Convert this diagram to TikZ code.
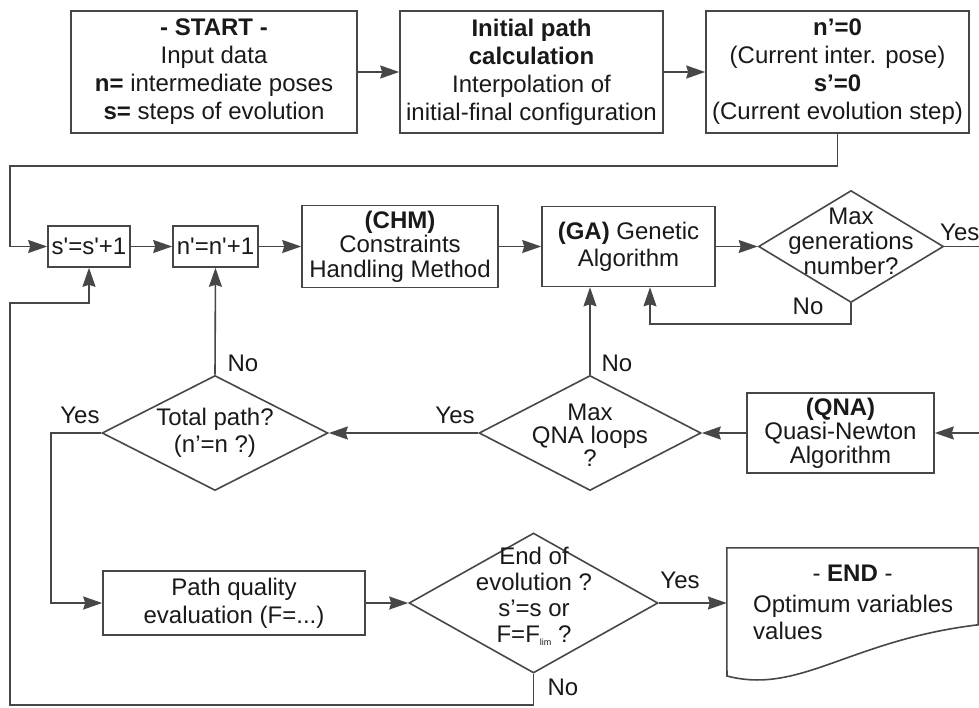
\documentclass[tikz,border=0pt]{standalone}
\usepackage{fontspec}
\setmainfont{Liberation Sans}
\usetikzlibrary{arrows.meta,shapes.geometric}

\begin{document}
\begin{tikzpicture}[x=1pt,y=-1pt,
  font=\fontsize{24}{28}\selectfont,
  every node/.style={text=black!90},
  box/.style={draw=black!72,line width=1.6pt,rectangle,align=center,inner sep=2pt},
  dia/.style={draw=black!72,line width=1.6pt,diamond,inner sep=0pt},
  txt/.style={align=center,inner sep=0pt,font=\fontsize{24}{25}\selectfont},
  lab/.style={inner sep=0pt},
  arr/.style={draw=black!72,line width=1.6pt,-{Stealth[length=19pt,width=13pt,inset=2pt]}},
  lin/.style={draw=black!72,line width=1.6pt}]
\useasboundingbox (0,0) rectangle (979,707);

\node[box,minimum width=286pt,minimum height=122pt] (start) at (214,72)
  {\textbf{- START -}\\Input data\\\textbf{n=} intermediate poses\\\textbf{s=} steps of evolution};
\node[box,minimum width=263pt,minimum height=122pt] (init) at (531.5,72)
  {\textbf{Initial path}\\\textbf{calculation}\\Interpolation of\\initial-final configuration};
\node[box,minimum width=263pt,minimum height=122pt] (cur) at (837.5,72)
  {\textbf{n’=0}\\(Current inter. pose)\\\textbf{s’=0}\\(Current evolution step)};

\node[box,minimum width=82pt,minimum height=41pt,inner sep=1pt] (sinc) at (89,246.5)
  {s\textquotesingle=s\textquotesingle+1};
\node[box,minimum width=85pt,minimum height=41pt,inner sep=1pt] (ninc) at (215.5,246.5)
  {n\textquotesingle=n\textquotesingle+1};
\node[box,minimum width=196pt,minimum height=82pt,font=\fontsize{24}{24.5}\selectfont] (chm) at (400,246.5)
  {\textbf{(CHM)}\\Constraints\\Handling Method};
\node[box,minimum width=173pt,minimum height=80pt,font=\fontsize{24}{27}\selectfont] (ga) at (628.5,246.5)
  {\textbf{(GA)} Genetic\\Algorithm};
\node[dia,minimum width=185pt,minimum height=112pt] (gen) at (851,246.5) {};
\node[txt] (gentxt) at (851,241) {Max\\generations\\number?};

\node[box,minimum width=187pt,minimum height=80pt,font=\fontsize{24}{24}\selectfont] (qna) at (840.5,433)
  {\textbf{(QNA)}\\Quasi-Newton\\Algorithm};
\node[dia,minimum width=222pt,minimum height=115pt] (mqna) at (590,433) {};
\node[txt,font=\fontsize{24}{23}\selectfont] (mqnatxt) at (590,435) {Max\\QNA loops\\?};
\node[dia,minimum width=226pt,minimum height=115pt] (tot) at (215,433) {};
\node[txt,font=\fontsize{24}{27}\selectfont] (tottxt) at (215,433) {Total path?\\(n’=n ?)};

\node[box,minimum width=262pt,minimum height=64pt] (pq) at (234,603)
  {Path quality\\evaluation (F=...)};
\node[dia,minimum width=249pt,minimum height=140pt] (endd) at (533.5,603) {};
\node[txt,font=\fontsize{24}{26}\selectfont] (enddtxt) at (534,596)
  {End of\\evolution ?\\s’=s or\\F=F\raisebox{-3pt}{\fontsize{9}{9}\selectfont lim} ?};
\node[minimum width=251pt,minimum height=110pt,inner sep=0pt] (endn) at (852.5,603) {};
\draw[lin] (endn.south west) -- (endn.north west) -- (endn.north east) -- ++(0,77)
  .. controls (850,640) and (800,695) .. (727,676) -- cycle;
\node[lab] (endtit) at (852.5,573) {- \textbf{END} -};
\node[lab,anchor=west,align=left,font=\fontsize{24}{27}\selectfont] (endbody) at (753,617)
  {Optimum variables\\values};

\coordinate (c1) at (10,166);
\coordinate (c2) at (851,324);
\coordinate (c3) at (51,433);
\coordinate (c4) at (10,705);
\coordinate (c5) at (10,303);
\coordinate (gout) at (979,246.5);
\coordinate (qin) at (979,433);

\draw[arr] (start) -- (init);
\draw[arr] (init) -- (cur);
\draw[arr] (cur.south) |- (c1) |- (sinc.west);
\draw[arr] (sinc) -- (ninc);
\draw[arr] (ninc) -- (chm);
\draw[arr] (chm) -- (ga);
\draw[arr] (ga) -- (gen.west);
\draw[lin] (gen.east) -- (gout);
\draw[arr] (gen.south) -- (c2) -| ([xshift=21.5pt]ga.south);
\draw[arr] (qin) -- (qna.east);
\draw[arr] (qna.west) -- (mqna.east);
\draw[arr] (mqna.north) -- (mqna.north |- ga.south);
\draw[arr] (mqna.west) -- (tot.east);
\draw[arr] (tot.north) -- (ninc.south);
\draw[arr] (tot.west) -- (c3) |- (pq.west);
\draw[arr] (pq.east) -- (endd.west);
\draw[arr] (endd.east) -- (endn.west);
\draw[arr] (endd.south) |- (c4) |- (c5) -| (sinc.south);

\node[lab,anchor=west] (lyes1) at (940,232) {Yes};
\node[lab] (lno1) at (808,306) {No};
\node[lab] (lno2) at (617,363) {No};
\node[lab] (lyes2) at (455,415) {Yes};
\node[lab] (lno3) at (243,363) {No};
\node[lab] (lyes3) at (80,415) {Yes};
\node[lab] (lyes4) at (680,580) {Yes};
\node[lab] (lno4) at (563,687) {No};
\end{tikzpicture}
\end{document}
